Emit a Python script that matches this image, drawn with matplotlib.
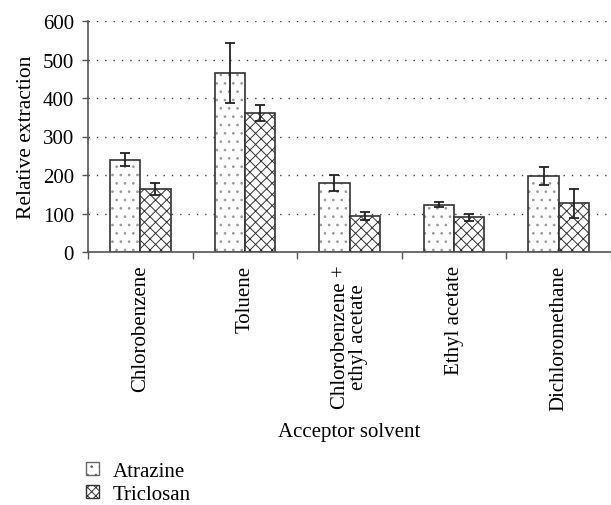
import matplotlib.pyplot as plt
import numpy as np
from matplotlib.patches import Patch

plt.rcParams["font.family"] = ["Liberation Serif", "DejaVu Serif"]
plt.rcParams["hatch.linewidth"] = 0.7

solvents = ["Chlorobenzene", "Toluene", "Chlorobenzene +\nethyl acetate", "Ethyl acetate", "Dichloromethane"]
atrazine = [240, 466, 180, 123, 197]
atrazine_err = [16, 78, 21, 6, 23]
triclosan = [164, 361, 93, 90, 126]
triclosan_err = [16, 21, 11, 9, 37]

edge = "#333333"
dot_color = "#9a9a9a"
err_style = {"elinewidth": 1.3, "capsize": 3.5, "capthick": 1.3, "ecolor": "#222222"}

fig = plt.figure(figsize=(6.11, 5.06), dpi=100)
ax = fig.add_axes([88 / 611, 0.5, 523 / 611, 231 / 506])

x = np.arange(len(solvents))
width = 0.29
# light dot fill first, then the dark outline on top
ax.bar(x - width / 2, atrazine, width, color="white", edgecolor=dot_color, hatch="..", linewidth=0)
ax.bar(x - width / 2, atrazine, width, yerr=atrazine_err, fill=False, edgecolor=edge,
       linewidth=1.2, error_kw=err_style)
ax.bar(x + width / 2, triclosan, width, yerr=triclosan_err, color="white", edgecolor=edge,
       hatch="xxx", linewidth=1.2, error_kw=err_style)

ax.set_xlim(-0.5, len(solvents) - 0.5)
ax.set_ylim(0, 600)
ax.set_yticks(range(0, 601, 100))
ax.yaxis.grid(True, linestyle=(0, (1, 5)), color="#444444", linewidth=1)
ax.set_axisbelow(True)
for side in ("top", "right"):
    ax.spines[side].set_visible(False)
for side in ("left", "bottom"):
    ax.spines[side].set_color("#555555")
    ax.spines[side].set_linewidth(1.2)

ax.set_xticks(x)
ax.set_xticklabels(solvents, rotation=90, fontsize=15, va="top", ha="center", multialignment="center",
                   linespacing=0.95)
ax.tick_params(axis="x", length=0, pad=9)
ax.set_xticks(np.arange(len(solvents) + 1) - 0.5, minor=True)
ax.tick_params(axis="x", which="minor", length=5, width=1, color="#555555", direction="out")
ax.tick_params(axis="y", length=4, width=1, color="#555555", labelsize=15, pad=6)
ax.set_ylabel("Relative extraction", fontsize=15.5, labelpad=5)
ax.set_xlabel("Acceptor solvent", fontsize=15, labelpad=9)

handles = [
    Patch(facecolor="white", edgecolor="#666666", hatch="..", label="Atrazine"),
    Patch(facecolor="white", edgecolor=edge, hatch="xxxx", label="Triclosan"),
]
fig.legend(handles=handles, loc="upper left", bbox_to_anchor=(86 / 611, 1 - 463 / 506), frameon=False,
           borderpad=0, borderaxespad=0, handlelength=0.6, handleheight=0.6, handletextpad=0.7,
           labelspacing=0.2, fontsize=15)

fig.savefig("out.png", dpi=100)
